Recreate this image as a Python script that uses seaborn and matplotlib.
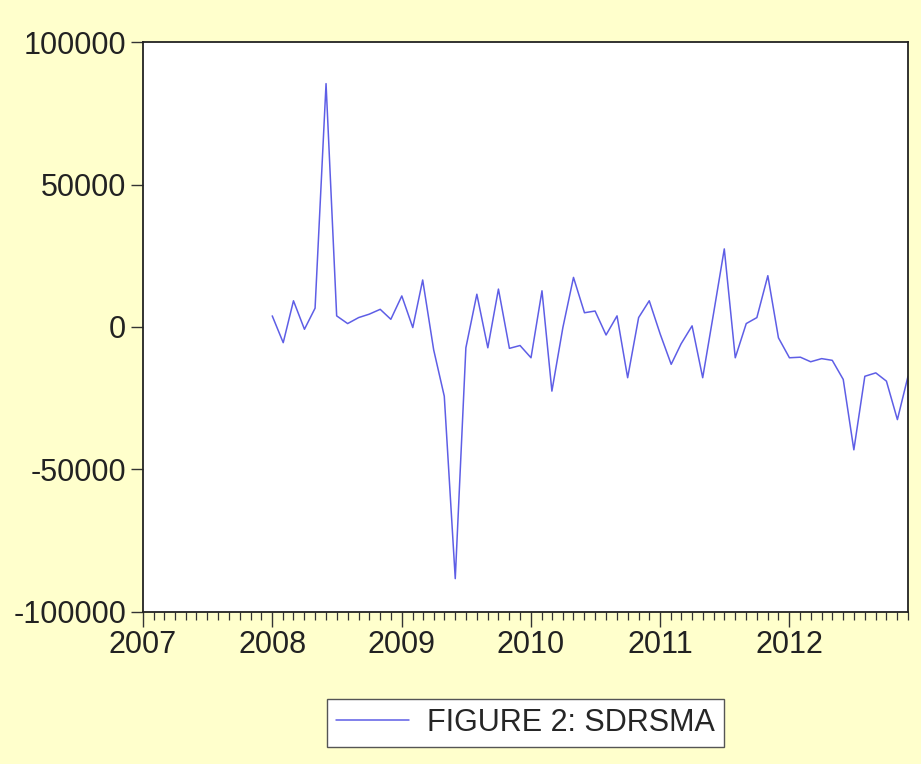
import matplotlib
matplotlib.use("Agg")
import matplotlib.pyplot as plt
import matplotlib.dates as mdates
import numpy as np
import pandas as pd
import seaborn as sns

# Monthly SDRSMA values, 2008M01 - 2012M12
vals_2008 = [3900, -5500, 9200, -800, 6600, 85400, 3900, 1200, 3300, 4500, 6200, 2700]
vals_2009 = [10900, -200, 16500, -8000, -24300, -88300, -7300, 11500, -7300, 13300, -7500, -6500]
vals_2010 = [-10800, 12700, -22500, -200, 17400, 5000, 5600, -2800, 3900, -17800, 3300, 9200]
vals_2011 = [-2500, -13100, -5900, 400, -17800, 5000, 27400, -10800, 1200, 3300, 18000, -3800]
vals_2012 = [-10800, -10600, -12200, -11100, -11700, -18400, -43100, -17300, -16100, -19000, -32500, -17300]

series_label = "FIGURE 2: SDRSMA"
year_ticks = [2007, 2008, 2009, 2010, 2011, 2012]
y_ticks = [-100000, -50000, 0, 50000, 100000]

values = vals_2008 + vals_2009 + vals_2010 + vals_2011 + vals_2012
dates = pd.date_range("2008-01-01", periods=len(values), freq="MS")
df = pd.DataFrame({"date": dates, "value": values})

sns.set_style("ticks")
plt.rcParams["font.family"] = ["Liberation Sans", "DejaVu Sans"]
plt.rcParams["axes.unicode_minus"] = False

bg = "#FFFFCC"
fig = plt.figure(figsize=(9.21, 7.64), dpi=100, facecolor=bg)
ax = fig.add_axes([0.1553, 0.199, 0.8306, 0.746])
ax.set_facecolor("white")

sns.lineplot(data=df, x="date", y="value", ax=ax, color="#5e5ee6", linewidth=1.1,
             label=series_label)

ax.set_xlim(pd.Timestamp("2007-01-01"), pd.Timestamp("2012-12-01"))
ax.set_ylim(-100000, 100000)
ax.set_yticks(y_ticks)
ax.set_yticklabels([str(v) for v in y_ticks])
ax.set_xticks([pd.Timestamp(f"{y}-01-01") for y in year_ticks])
ax.xaxis.set_major_formatter(mdates.DateFormatter("%Y"))
ax.xaxis.set_minor_locator(mdates.MonthLocator())
ax.set_xlabel("")
ax.set_ylabel("")

for s in ax.spines.values():
    s.set_color("#222222")
    s.set_linewidth(1.3)

ax.tick_params(axis="y", which="major", length=9, width=1, labelsize=22,
               colors="#333333", labelcolor="#222222", pad=3)
ax.tick_params(axis="x", which="major", length=11, width=1, labelsize=22,
               colors="#333333", labelcolor="#222222", pad=2)
ax.tick_params(axis="x", which="minor", length=6, width=0.9, colors="#333333")

leg = ax.legend(loc="center", bbox_to_anchor=(0.5, -0.195), frameon=True,
                fancybox=False, fontsize=22, handlelength=2.4, borderpad=0.3,
                handletextpad=0.6)
leg.get_frame().set_edgecolor("#555555")
leg.get_frame().set_linewidth(1.0)
leg.get_frame().set_facecolor("white")
leg.get_frame().set_alpha(1)

fig.savefig("out.png", dpi=100, facecolor=bg)
